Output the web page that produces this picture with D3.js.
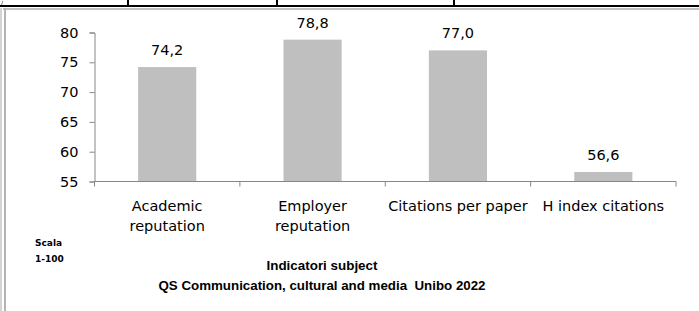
<!DOCTYPE html>
<html>
<head>
<meta charset="utf-8">
<script src="https://cdn.jsdelivr.net/npm/d3@7"></script>
<style>
  body { margin: 0; background: #fff; }
  svg { display: block; }
</style>
</head>
<body>
<svg></svg>
<script>
// data
const categories = [['Academic', 'reputation'], ['Employer', 'reputation'], ['Citations per paper'], ['H index citations']]
const values = [74.2, 78.8, 77.0, 56.6]
const yTicks = [55, 60, 65, 70, 75, 80]
const titleLines = ['Indicatori subject', 'QS Communication, cultural and media  Unibo 2022']
const scaleLines = ['Scala', '1-100']

const WIDTH = 699
const HEIGHT = 311
const FONT = 'DejaVu Sans, Verdana, sans-serif'
const AXIS_COLOR = '#868686'

const svg = d3.select('svg')
  .attr('width', WIDTH)
  .attr('height', HEIGHT)

// page frame (table borders around the chart)
svg.append('line').attr('x1', 0).attr('x2', WIDTH).attr('y1', 6).attr('y2', 6)
  .attr('stroke', '#000').attr('stroke-width', 2)
for (const vx of [128, 277, 454]) {
  svg.append('line').attr('x1', vx).attr('x2', vx).attr('y1', 0).attr('y2', 6)
    .attr('stroke', '#000').attr('stroke-width', 2)
}
svg.append('line').attr('x1', 3).attr('x2', WIDTH).attr('y1', 9).attr('y2', 9)
  .attr('stroke', '#c0c0c0').attr('stroke-width', 2)
svg.append('line').attr('x1', 1).attr('x2', 1).attr('y1', 8).attr('y2', HEIGHT)
  .attr('stroke', '#d4d4d4').attr('stroke-width', 2)
svg.append('line').attr('x1', 5).attr('x2', 5).attr('y1', 8).attr('y2', HEIGHT)
  .attr('stroke', '#b4b4b4').attr('stroke-width', 2)
svg.append('text').attr('x', 1).attr('y', 5).text('/')
  .style('font-family', FONT).style('font-size', '6px')

const x0 = 94.5, x1 = 676
const yTop = 32.5, yBottom = 181.5

const x = d3.scaleBand()
  .domain(d3.range(values.length))
  .range([x0, x1])
  .paddingInner(0.6)
  .paddingOuter(0.3)
const y = d3.scaleLinear()
  .domain([55, 80])
  .range([yBottom, yTop])

// bars
const g = svg.append('g').attr('class', 'chart')
g.selectAll('.bar')
  .data(values)
  .enter().append('rect')
    .attr('class', 'bar')
    .attr('x', (d, i) => x(i))
    .attr('y', d => y(d))
    .attr('width', x.bandwidth())
    .attr('height', d => y(55) - y(d))
    .attr('fill', '#bfbfbf')

g.selectAll('.val')
  .data(values)
  .enter().append('text')
    .attr('class', 'val')
    .attr('x', (d, i) => x(i) + x.bandwidth() / 2)
    .attr('y', d => y(d) - 12)
    .attr('text-anchor', 'middle')
    .style('font-family', FONT)
    .style('font-size', '14.5px')
    .attr('fill', '#000')
    .text(d => d.toFixed(1).replace('.', ','))

// y axis
const yAxis = svg.append('g')
  .attr('transform', `translate(${x0},0)`)
  .call(d3.axisLeft(y).tickValues(yTicks).tickSize(5).tickPadding(11))
yAxis.select('.domain').attr('stroke', AXIS_COLOR)
yAxis.selectAll('.tick line').attr('stroke', AXIS_COLOR)
yAxis.selectAll('.tick text')
  .style('font-family', FONT).style('font-size', '14.5px').attr('fill', '#000')

// x axis: line plus ticks on band boundaries
const step = x.step()
const boundaries = d3.range(values.length + 1).map(i => x0 + i * step)
const xAxis = svg.append('g')
xAxis.append('line')
  .attr('x1', x0).attr('x2', x1).attr('y1', yBottom).attr('y2', yBottom)
  .attr('stroke', AXIS_COLOR)
xAxis.selectAll('.xt')
  .data(boundaries)
  .enter().append('line')
    .attr('x1', d => d).attr('x2', d => d)
    .attr('y1', yBottom).attr('y2', yBottom + 5)
    .attr('stroke', AXIS_COLOR)

const labels = svg.selectAll('.xlabel')
  .data(categories)
  .enter().append('text')
    .attr('class', 'xlabel')
    .attr('text-anchor', 'middle')
    .style('font-family', FONT)
    .style('font-size', '14.5px')
    .attr('fill', '#000')
labels.selectAll('tspan')
  .data((d, i) => d.map(t => ({ t: t, i: i })))
  .enter().append('tspan')
    .attr('x', d => x(d.i) + x.bandwidth() / 2)
    .attr('y', (d, j) => 211 + j * 20)
    .text(d => d.t)

// side note
svg.selectAll('.scala')
  .data(scaleLines)
  .enter().append('text')
    .attr('x', 35)
    .attr('y', (d, i) => 246 + i * 16)
    .style('font-family', FONT)
    .style('font-size', '9px')
    .style('font-weight', 'bold')
    .text(d => d)

// title
const titleWidths = [111, 327]
svg.selectAll('.title')
  .data(titleLines)
  .enter().append('text')
    .attr('x', 322)
    .attr('y', (d, i) => 270 + i * 20)
    .attr('text-anchor', 'middle')
    .attr('textLength', (d, i) => titleWidths[i])
    .attr('lengthAdjust', 'spacingAndGlyphs')
    .style('white-space', 'pre')
    .style('font-family', 'Liberation Sans, Arial, sans-serif')
    .style('font-size', '13.5px')
    .style('font-weight', 'bold')
    .text(d => d)
</script>
</body>
</html>
